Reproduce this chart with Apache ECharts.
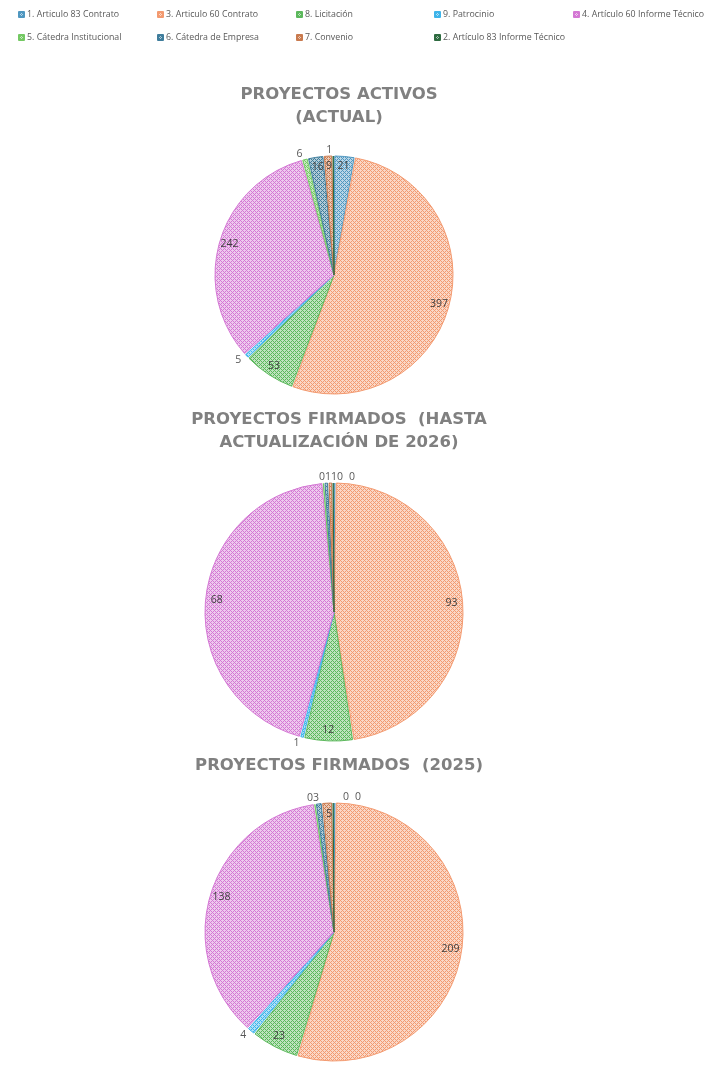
<!DOCTYPE html>
<html>
<head>
<meta charset="utf-8">
<title>Proyectos</title>
<script src="https://cdn.jsdelivr.net/npm/echarts@6/dist/echarts.min.js"></script>
<style>
    html, body { margin: 0; padding: 0; background: #fff; }
    #chart { width: 713px; height: 1087px; }
</style>
</head>
<body>
<div id="chart"></div>
<script>
    // categorias en el orden de la serie (sentido horario desde arriba)
    var categories = ['1. Articulo 83 Contrato', '3. Articulo 60 Contrato', '8. Licitación', '9. Patrocinio',
        '4. Artículo 60 Informe Técnico', '5. Cátedra Institucional', '6. Cátedra de Empresa', '7. Convenio',
        '2. Artículo 83 Informe Técnico'];
    var colors = ['#4f97c0', '#f39a70', '#5cb85c', '#3eb4ea', '#d478d4', '#74c963', '#3f7d9c', '#c97a4e', '#2e6b40'];

    var activos = [21, 397, 53, 5, 242, 6, 16, 9, 1];
    // en el original el sector morado mide ~87 aunque la etiqueta dice 68
    var firmados2026 = [0, 93, 12, 1, 87, 0, 1, 1, 0];
    var firmados2026Etiquetas = [0, 93, 12, 1, 68, 0, 1, 1, 0];
    var firmados2025 = [0, 209, 23, 4, 138, 0, 3, 5, 0];

    var titles = ['PROYECTOS ACTIVOS\n(ACTUAL)', 'PROYECTOS FIRMADOS  (HASTA\nACTUALIZACIÓN DE 2026)', 'PROYECTOS FIRMADOS  (2025)'];

    // trama cruzada fina como en Excel
    function mix(hex, w) {
        var n = parseInt(hex.slice(1), 16);
        var r = (n >> 16) & 255, g = (n >> 8) & 255, b = n & 255;
        r = Math.round(r + (255 - r) * w); g = Math.round(g + (255 - g) * w); b = Math.round(b + (255 - b) * w);
        return 'rgb(' + r + ',' + g + ',' + b + ')';
    }
    function hatch(hex) {
        var c = document.createElement('canvas');
        c.width = 4; c.height = 4;
        var ctx = c.getContext('2d');
        ctx.fillStyle = mix(hex, 0.6);
        ctx.fillRect(0, 0, 4, 4);
        ctx.fillStyle = hex;
        for (var x = 0; x < 4; x++) {
            for (var y = 0; y < 4; y++) {
                if ((x + y) % 4 === 0 || (x - y + 4) % 4 === 0) ctx.fillRect(x, y, 1, 1);
            }
        }
        return { image: c, repeat: 'repeat' };
    }
    var patterns = colors.map(hatch);

    var pies = [
        { values: activos, labels: activos, cy: 275, r: 119 },
        { values: firmados2026, labels: firmados2026Etiquetas, cy: 612, r: 129 },
        { values: firmados2025, labels: firmados2025, cy: 932, r: 129 }
    ];
    var titleTops = [78, 403, 749];
    var cx = 334;
    var limit = 0.0115;

    var series = [];
    pies.forEach(function (p, k) {
        var total = p.values.reduce(function (a, b) { return a + b; }, 0);
        var fmt = function (params) { return String(p.labels[params.dataIndex]); };
        // sectores + etiquetas exteriores
        series.push({
            type: 'pie',
            center: [cx, p.cy],
            radius: [0, p.r],
            startAngle: 90,
            padAngle: 0.7,
            avoidLabelOverlap: false,
            labelLayout: k > 0 ? { moveOverlap: 'shiftX' } : null,
            data: p.values.map(function (v, i) {
                var outside = v / total < limit;
                return {
                    name: categories[i],
                    value: v,
                    itemStyle: { color: patterns[i], borderColor: colors[i], borderWidth: 1 },
                    label: { show: outside }
                };
            }),
            label: {
                position: 'outside',
                formatter: fmt,
                color: '#595959',
                fontFamily: 'Open Sans',
                fontSize: 10.5,
                distanceToLabelLine: 1
            },
            labelLine: { show: false, length: 6, length2: 0 },
            emphasis: { disabled: true }
        });
        // etiquetas interiores cerca del borde
        series.push({
            type: 'pie',
            center: [cx, p.cy],
            radius: [p.r * 0.78, p.r],
            startAngle: 90,
            silent: true,
            data: p.values.map(function (v, i) {
                return {
                    name: categories[i],
                    value: v,
                    itemStyle: { color: 'rgba(0,0,0,0)' },
                    label: { show: v / total >= limit }
                };
            }),
            label: {
                position: 'inside',
                formatter: fmt,
                color: '#404040',
                fontFamily: 'Open Sans',
                fontSize: 10.5
            },
            labelLine: { show: false },
            emphasis: { disabled: true }
        });
    });

    var legendX = [20, 159, 298, 436, 575];
    var legends = categories.map(function (name, i) {
        return {
            data: [name],
            left: legendX[i < 5 ? i : i - 5] - 2,
            top: i < 5 ? 10 : 33,
            icon: 'rect',
            itemWidth: 5,
            itemHeight: 5,
            itemGap: 0,
            padding: 0,
            selectedMode: false,
            textStyle: { color: '#595959', fontFamily: 'Open Sans', fontSize: 8.8, padding: [0, 0, 0, -2] }
        };
    });

    var myChart = echarts.init(document.getElementById('chart'));
    var option = {
        animation: false,
        title: titles.map(function (t, k) {
            return {
                text: t,
                left: cx,
                top: titleTops[k],
                textAlign: 'center',
                textStyle: {
                    color: '#808080',
                    fontFamily: 'DejaVu Sans',
                    fontWeight: 'bold',
                    fontSize: 16.5,
                    lineHeight: 23
                }
            };
        }),
        legend: legends,
        series: series
    };
    myChart.setOption(option);
</script>
</body>
</html>
